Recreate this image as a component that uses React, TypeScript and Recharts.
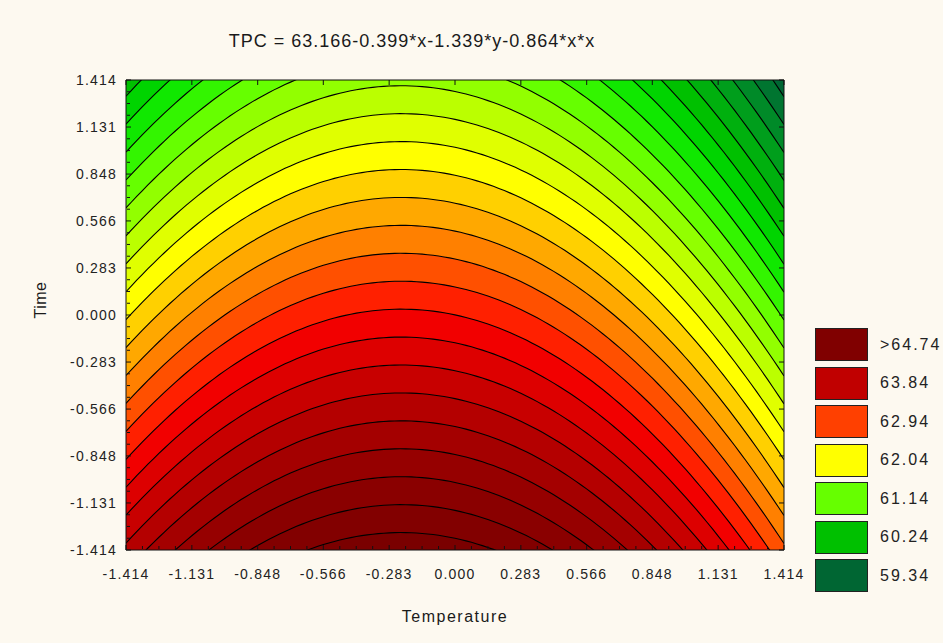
import React from 'react';
import { ComposedChart, Area, XAxis, YAxis, Legend } from 'recharts';

// surface printed in the title: TPC = B0 + BX*x + BY*y + BXX*x*x
const B0 = 63.166;
const BX = -0.399;
const BY = -1.339;
const BXX = -0.864;

// contour levels (lines drawn every 0.225, four per legend step)
const LEVELS = [
  58.89, 59.115, 59.34, 59.565, 59.79, 60.015, 60.24, 60.465, 60.69, 60.915,
  61.14, 61.365, 61.59, 61.815, 62.04, 62.265, 62.49, 62.715, 62.94, 63.165,
  63.39, 63.615, 63.84, 64.065, 64.29, 64.515, 64.74, 64.965,
];

// fill of the band above each level, as seen in the plot
const BAND_COLORS = [
  '#006633', '#007530', '#008a28', '#009e1c', '#00b00e', '#00c000', '#00d400',
  '#10e800', '#33f500', '#66ff00', '#92ff00', '#bbff00', '#e0ff00', '#ffff00',
  '#ffd000', '#ffa800', '#ff8000', '#ff5000', '#ff2000', '#f20000', '#dd0000',
  '#c80000', '#b40000', '#a40000', '#960000', '#8a0000', '#820000', '#7a0000',
];

const LEGEND_LABELS = ['>64.74', '63.84', '62.94', '62.04', '61.14', '60.24', '59.34'];
const LEGEND_COLORS = ['#800000', '#c00000', '#ff4000', '#ffff00', '#66ff00', '#00c000', '#006633'];

const TICKS = [-1.414, -1.131, -0.848, -0.566, -0.283, 0, 0.283, 0.566, 0.848, 1.131, 1.414];
const DOMAIN: [number, number] = [-1.414, 1.414];

const TITLE = 'TPC = 63.166-0.399*x-1.339*y-0.864*x*x';
const X_LABEL = 'Temperature';
const Y_LABEL = 'Time';

const FONT = '"Liberation Sans", Arial, sans-serif';
const BG = '#fdf9f0';

// sample each contour of the title surface across the x range
const STEPS = 120;
const rows = Array.from({ length: STEPS + 1 }, (_, s) => {
  const x = DOMAIN[0] + ((DOMAIN[1] - DOMAIN[0]) * s) / STEPS;
  const row: Record<string, number> = { x };
  LEVELS.forEach((lv, i) => {
    row[`l${i}`] = (lv - B0 - BX * x - BXX * x * x) / BY;
  });
  return row;
});

const minorTicks = TICKS.slice(0, -1).flatMap((t, i) => {
  const step = (TICKS[i + 1] - t) / 4;
  return [t + step, t + 2 * step, t + 3 * step];
});

const tickStyle = { fontSize: 14, fill: '#222', fontFamily: FONT, letterSpacing: 1.2 };
const fmt = (v: number) => v.toFixed(3);
const blank = () => '';
const LINE = { stroke: '#111' };

const LegendBox = () => (
  <div style={{ fontFamily: FONT }}>
    {LEGEND_LABELS.map((lab, i) => (
      <div key={lab} style={{ display: 'flex', alignItems: 'center', height: 33, marginBottom: 5.5 }}>
        <div
          style={{
            width: 51,
            height: 31,
            background: LEGEND_COLORS[i],
            border: '1px solid #222',
          }}
        />
        <span style={{ marginLeft: 12, fontSize: 16, color: '#222', letterSpacing: 2 }}>{lab}</span>
      </div>
    ))}
  </div>
);

export default function App() {
  return (
    <div style={{ position: 'fixed', left: 0, top: 0, width: 943, height: 643, background: BG }}>
      <div
        style={{
          position: 'absolute',
          left: 0,
          width: 824,
          top: 31,
          textAlign: 'center',
          fontFamily: FONT,
          fontSize: 18,
          letterSpacing: 1,
          color: '#1a1a1a',
        }}
      >
        {TITLE}
      </div>
      <ComposedChart
        width={943}
        height={643}
        data={rows}
        margin={{ top: 80, right: 159, bottom: 92, left: 125 }}
      >
        {LEVELS.map((lv, i) => (
          <Area
            key={lv}
            xAxisId="x"
            yAxisId="y"
            dataKey={`l${i}`}
            type="linear"
            baseValue={DOMAIN[0]}
            stroke="#000"
            strokeWidth={1.1}
            fill={BAND_COLORS[i]}
            fillOpacity={1}
            dot={false}
            activeDot={false}
            isAnimationActive={false}
          />
        ))}
        <XAxis
          xAxisId="x"
          dataKey="x"
          type="number"
          domain={DOMAIN}
          allowDataOverflow
          ticks={TICKS}
          interval={0}
          tickFormatter={fmt}
          height={1}
          tickSize={0}
          tickMargin={19}
          tickLine={false}
          axisLine={LINE}
          tick={tickStyle}
          label={{ value: X_LABEL, position: 'bottom', offset: 60, fontSize: 16, fill: '#1a1a1a', fontFamily: FONT, letterSpacing: 1.5 } as any}
        />
        <XAxis xAxisId="xb" dataKey="x" type="number" domain={DOMAIN} allowDataOverflow ticks={TICKS} interval={0}
          height={1} mirror tickFormatter={blank} tickSize={5} axisLine={false} tickLine={LINE} zIndex={600} />
        <XAxis xAxisId="xbm" dataKey="x" type="number" domain={DOMAIN} allowDataOverflow ticks={minorTicks} interval={0}
          height={1} mirror tickFormatter={blank} tickSize={3} axisLine={false} tickLine={LINE} zIndex={600} />
        <XAxis xAxisId="xt" dataKey="x" orientation="top" type="number" domain={DOMAIN} allowDataOverflow ticks={TICKS} interval={0}
          height={1} mirror tickFormatter={blank} tickSize={5} axisLine={LINE} tickLine={LINE} zIndex={600} />
        <YAxis
          yAxisId="y"
          type="number"
          domain={DOMAIN}
          allowDataOverflow
          ticks={TICKS}
          interval={0}
          tickFormatter={fmt}
          width={1}
          tickSize={0}
          tickMargin={9}
          tickLine={false}
          axisLine={LINE}
          tick={tickStyle}
          label={{
            content: (p: any) => {
              const vb = p.viewBox;
              const cx = vb.x - 85;
              const cy = vb.y + vb.height / 2 - 15;
              return (
                <text
                  x={cx}
                  y={cy}
                  transform={`rotate(-90, ${cx}, ${cy})`}
                  textAnchor="middle"
                  dominantBaseline="central"
                  fontSize={16}
                  fontFamily={FONT}
                  fill="#1a1a1a"
                  letterSpacing={0.5}
                >
                  {Y_LABEL}
                </text>
              );
            },
          } as any}
        />
        <YAxis yAxisId="yl" type="number" domain={DOMAIN} allowDataOverflow ticks={TICKS} interval={0}
          width={1} mirror tickFormatter={blank} tickSize={5} axisLine={false} tickLine={LINE} zIndex={600} />
        <YAxis yAxisId="ylm" type="number" domain={DOMAIN} allowDataOverflow ticks={minorTicks} interval={0}
          width={1} mirror tickFormatter={blank} tickSize={3} axisLine={false} tickLine={LINE} zIndex={600} />
        <YAxis yAxisId="yr" orientation="right" type="number" domain={DOMAIN} allowDataOverflow ticks={TICKS} interval={0}
          width={1} mirror tickFormatter={blank} tickSize={5} axisLine={LINE} tickLine={LINE} zIndex={600} />
        <Legend
          layout="vertical"
          align="center"
          verticalAlign="middle"
          content={() => <LegendBox />}
          wrapperStyle={{ left: 815, top: 328, width: 128, height: 270 }}
        />
      </ComposedChart>
    </div>
  );
}
